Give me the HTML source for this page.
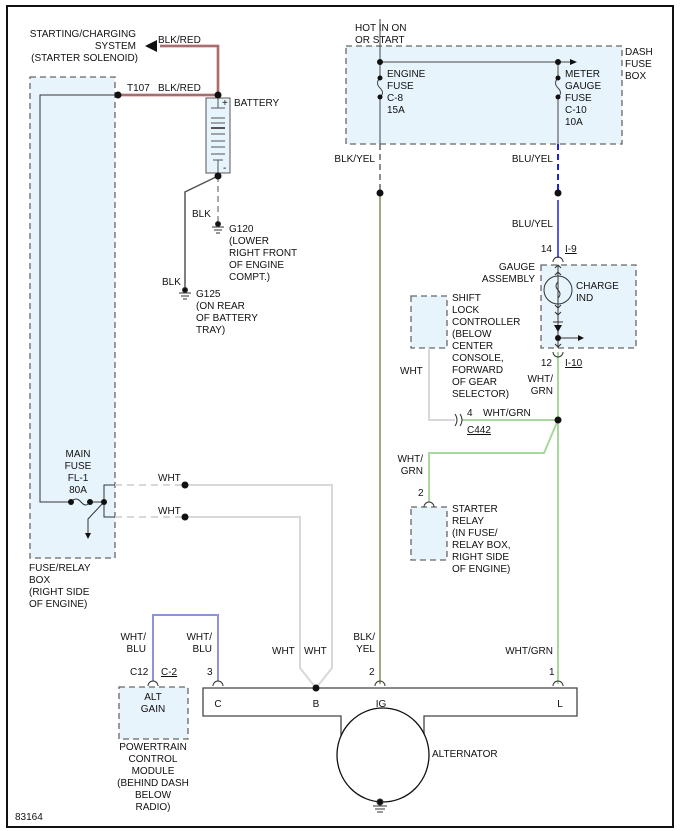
<!DOCTYPE html>
<html><head><meta charset="utf-8"><style>
html,body{margin:0;padding:0;background:#fff}
svg{display:block}
text{font-family:"Liberation Sans",sans-serif;font-size:10px;fill:#111}
</style></head><body>
<svg width="680" height="831" viewBox="0 0 680 831" xmlns="http://www.w3.org/2000/svg">
<rect x="7" y="6" width="666" height="821" fill="#fff" stroke="#111" stroke-width="2"/>
<g fill="#e8f4fc" stroke="#666" stroke-width="1.3" stroke-dasharray="6,4">
<rect x="30" y="77" width="85" height="481"/>
<rect x="346" y="46" width="276" height="98"/>
<rect x="541" y="265" width="95" height="83"/>
<rect x="411" y="296" width="36" height="52"/>
<rect x="411" y="507" width="36" height="53"/>
<rect x="119" y="687" width="69" height="52"/>
</g>
<g fill="none" stroke-linejoin="miter">
<path d="M160 46 H218 V95 M118 95 H218" stroke="#e89090" stroke-width="3"/>
<path d="M160 46 H218 V95 M118 95 H218" stroke="#555" stroke-width="1"/>
</g>
<polygon points="145,46 157,40 157,52" fill="#111"/>
<g fill="none" stroke="#333" stroke-width="1">
<path d="M118 95 H40 V502 H71"/>
<path d="M71 502 q5 -6 10 0 t9 0 H104"/>
<path d="M104 502 L88 519 V533"/>
<path d="M115 485 H104 V517 H115"/>
</g>
<polygon points="85,533 91,533 88,539" fill="#111"/>
<g fill="none" stroke="#d8d8d8" stroke-width="2">
<path d="M115 485 H185 M115 517 H185" stroke-dasharray="7,5"/>
<path d="M185 485 H332 V668 L316 688 L300 668 V517 H185"/>
<path d="M429 348 V420 H455"/>
</g>
<rect x="206" y="98" width="24" height="75" fill="#e8f4fc" stroke="#555"/>
<g stroke="#555" stroke-width="1">
<line x1="218" y1="98" x2="218" y2="108"/><line x1="211" y1="108" x2="225" y2="108"/>
<line x1="211" y1="118" x2="225" y2="118"/><line x1="211" y1="123" x2="225" y2="123"/>
<line x1="211" y1="128" x2="225" y2="128" stroke-width="2"/><line x1="211" y1="134" x2="225" y2="134"/>
<line x1="211" y1="141" x2="225" y2="141"/><line x1="211" y1="147" x2="225" y2="147"/>
<line x1="211" y1="154" x2="225" y2="154"/><line x1="213" y1="160" x2="223" y2="160"/>
<line x1="218" y1="160" x2="218" y2="176"/>
</g>
<text x="222" y="106" font-size="9">+</text><text x="223" y="171" font-size="9">-</text>
<path d="M218 176 V222" stroke="#555" stroke-dasharray="6,4" fill="none"/>
<path d="M218 176 L185 192 V290" stroke="#555" stroke-width="1.5" fill="none"/>
<g stroke="#333" fill="#111">
<circle cx="218" cy="224" r="2.5"/><line x1="212" y1="227" x2="224" y2="227"/><line x1="214" y1="230" x2="222" y2="230"/><line x1="216" y1="233" x2="220" y2="233"/>
<circle cx="185" cy="290" r="2.5"/><line x1="179" y1="293" x2="191" y2="293"/><line x1="181" y1="296" x2="189" y2="296"/><line x1="183" y1="299" x2="187" y2="299"/>
</g>
<g fill="none" stroke="#444" stroke-width="1">
<path d="M380 18 V78 M380 97 V144 M380 62 H570 M558 62 V78 M558 97 V144"/>
<path d="M380 78 q-5 5 0 10 q5 5 0 9 M558 78 q-5 5 0 10 q5 5 0 9"/>
</g>
<rect x="377" y="16" width="6" height="3" fill="#fff"/>
<polygon points="570,59 577,62 570,65" fill="#111"/>
<path d="M380 144 V193" stroke="#666" stroke-width="1.5" stroke-dasharray="6,4"/>
<path d="M380 193 V684" stroke="#8a8a50" stroke-width="1.5"/>
<path d="M558 144 V193" stroke="#2020e0" stroke-width="2" stroke-dasharray="6,4"/>
<path d="M558 200 V258" stroke="#2020e0" stroke-width="1.5"/>
<g fill="none" stroke="#a8d8a0" stroke-width="2">
<path d="M558 352 V684"/>
<path d="M462 420 H558 L544 453 H429 V502"/>
</g>
<path d="M153 681 V615 H218 V681" fill="none" stroke="#9090e0" stroke-width="2"/>
<g fill="none" stroke="#333" stroke-width="1">
<path d="M553 262 a5 5 0 0 1 10 0 M553 352 a5 5 0 0 0 10 0"/>
<line x1="558" y1="266" x2="558" y2="348"/>
<circle cx="558" cy="290" r="14"/>
<path d="M555 268 l3 -3 l3 3 M555 275 l3 -3 l3 3 M555 305 l3 3 l3 -3 M555 312 l3 3 l3 -3"/>
<path d="M558 282 q-4 4 0 8 q4 4 0 8"/>
<line x1="553" y1="322" x2="563" y2="322"/>
<line x1="558" y1="338" x2="578" y2="338"/>
<path d="M555 344 l3 3 l3 -3"/>
<path d="M455 414 q4 6 0 12 M460 414 q4 6 0 12"/>
<path d="M424 507 a5 5 0 0 1 10 0"/>
<path d="M148 686 a5 5 0 0 1 10 0 M213 686 a5 5 0 0 1 10 0 M375 686 a5 5 0 0 1 10 0 M553 686 a5 5 0 0 1 10 0"/>
</g>
<polygon points="554,325 562,325 558,332" fill="#111"/>
<polygon points="578,335 584,338 578,341" fill="#111"/>
<rect x="203" y="688" width="374" height="28" fill="#fff"/>
<path d="M341 745 V716 H203 V688 H577 V716 H424 V745" fill="none" stroke="#444" stroke-width="1.3"/>
<ellipse cx="383" cy="755" rx="46" ry="47" fill="#fff" stroke="#111" stroke-width="1.3"/>
<g stroke="#333" fill="#111">
<circle cx="380" cy="802" r="3"/><line x1="373" y1="806" x2="387" y2="806"/><line x1="375" y1="809" x2="385" y2="809"/><line x1="377" y1="812" x2="383" y2="812"/>
</g>
<g fill="#111">
<circle cx="118" cy="95" r="3.5"/><circle cx="218" cy="95" r="3.5"/><circle cx="218" cy="176" r="3.5"/>
<circle cx="71" cy="502" r="3"/><circle cx="90" cy="502" r="3"/><circle cx="104" cy="502" r="3"/>
<circle cx="185" cy="485" r="3.5"/><circle cx="185" cy="517" r="3.5"/>
<circle cx="380" cy="62" r="3"/><circle cx="558" cy="62" r="3"/>
<circle cx="380" cy="78" r="2.5"/><circle cx="380" cy="97" r="2.5"/><circle cx="558" cy="78" r="2.5"/><circle cx="558" cy="97" r="2.5"/>
<circle cx="380" cy="193" r="3.5"/><circle cx="558" cy="193" r="3.5"/>
<circle cx="558" cy="338" r="3"/><circle cx="558" cy="420" r="3.5"/><circle cx="316" cy="688" r="3.5"/>
</g>
<g text-anchor="end">
<text x="136" y="37">STARTING/CHARGING</text><text x="136" y="49">SYSTEM</text><text x="138" y="61">(STARTER SOLENOID)</text>
<text x="375" y="162">BLK/YEL</text><text x="553" y="162">BLU/YEL</text><text x="553" y="227">BLU/YEL</text>
<text x="552" y="252">14</text><text x="535" y="270">GAUGE</text><text x="535" y="282">ASSEMBLY</text>
<text x="552" y="366">12</text><text x="553" y="382">WHT/</text><text x="553" y="394">GRN</text>
<text x="423" y="462">WHT/</text><text x="423" y="474">GRN</text>
<text x="146" y="640">WHT/</text><text x="146" y="652">BLU</text><text x="212" y="640">WHT/</text><text x="212" y="652">BLU</text>
<text x="375" y="640">BLK/</text><text x="375" y="652">YEL</text><text x="553" y="654">WHT/GRN</text>
</g>
<text x="158" y="43">BLK/RED</text><text x="127" y="91">T107</text><text x="158" y="91">BLK/RED</text>
<text x="234" y="106">BATTERY</text>
<text x="192" y="217">BLK</text><text x="229" y="232">G120</text><text x="229" y="244">(LOWER</text><text x="229" y="256">RIGHT FRONT</text><text x="229" y="268">OF ENGINE</text><text x="229" y="280">COMPT.)</text>
<text x="162" y="285">BLK</text><text x="196" y="297">G125</text><text x="196" y="309">(ON REAR</text><text x="196" y="321">OF BATTERY</text><text x="196" y="333">TRAY)</text>
<g text-anchor="middle"><text x="78" y="457">MAIN</text><text x="78" y="469">FUSE</text><text x="78" y="481">FL-1</text><text x="78" y="493">80A</text>
<text x="153" y="700">ALT</text><text x="153" y="712">GAIN</text>
<text x="153" y="750">POWERTRAIN</text><text x="153" y="762">CONTROL</text><text x="153" y="774">MODULE</text><text x="153" y="786">(BEHIND DASH</text><text x="153" y="798">BELOW</text><text x="153" y="810">RADIO)</text>
<text x="218" y="707">C</text><text x="316" y="707">B</text><text x="381" y="707">IG</text><text x="560" y="707">L</text></g>
<text x="158" y="481">WHT</text><text x="158" y="514">WHT</text>
<text x="29" y="571">FUSE/RELAY</text><text x="29" y="583">BOX</text><text x="29" y="595">(RIGHT SIDE</text><text x="29" y="607">OF ENGINE)</text>
<text x="355" y="31">HOT IN ON</text><text x="355" y="43">OR START</text>
<text x="387" y="77">ENGINE</text><text x="387" y="89">FUSE</text><text x="387" y="101">C-8</text><text x="387" y="113">15A</text>
<text x="565" y="77">METER</text><text x="565" y="89">GAUGE</text><text x="565" y="101">FUSE</text><text x="565" y="113">C-10</text><text x="565" y="125">10A</text>
<text x="625" y="55">DASH</text><text x="625" y="67">FUSE</text><text x="625" y="79">BOX</text>
<text x="565" y="252" text-decoration="underline">I-9</text><text x="565" y="366" text-decoration="underline">I-10</text>
<text x="576" y="289">CHARGE</text><text x="576" y="301">IND</text>
<text x="452" y="301">SHIFT</text><text x="452" y="313">LOCK</text><text x="452" y="325">CONTROLLER</text><text x="452" y="337">(BELOW</text><text x="452" y="349">CENTER</text><text x="452" y="361">CONSOLE,</text><text x="452" y="373">FORWARD</text><text x="452" y="385">OF GEAR</text><text x="452" y="397">SELECTOR)</text>
<text x="400" y="374">WHT</text>
<text x="467" y="416">4</text><text x="483" y="416">WHT/GRN</text><text x="467" y="433" text-decoration="underline">C442</text>
<text x="418" y="496">2</text>
<text x="452" y="512">STARTER</text><text x="452" y="524">RELAY</text><text x="452" y="536">(IN FUSE/</text><text x="452" y="548">RELAY BOX,</text><text x="452" y="560">RIGHT SIDE</text><text x="452" y="572">OF ENGINE)</text>
<text x="272" y="654">WHT</text><text x="304" y="654">WHT</text>
<text x="130" y="675">C12</text><text x="161" y="675" text-decoration="underline">C-2</text><text x="207" y="675">3</text>
<text x="369" y="675">2</text><text x="549" y="675">1</text>
<text x="432" y="757">ALTERNATOR</text>
<text x="15" y="820" font-size="9">83164</text>
</svg>
</body></html>
